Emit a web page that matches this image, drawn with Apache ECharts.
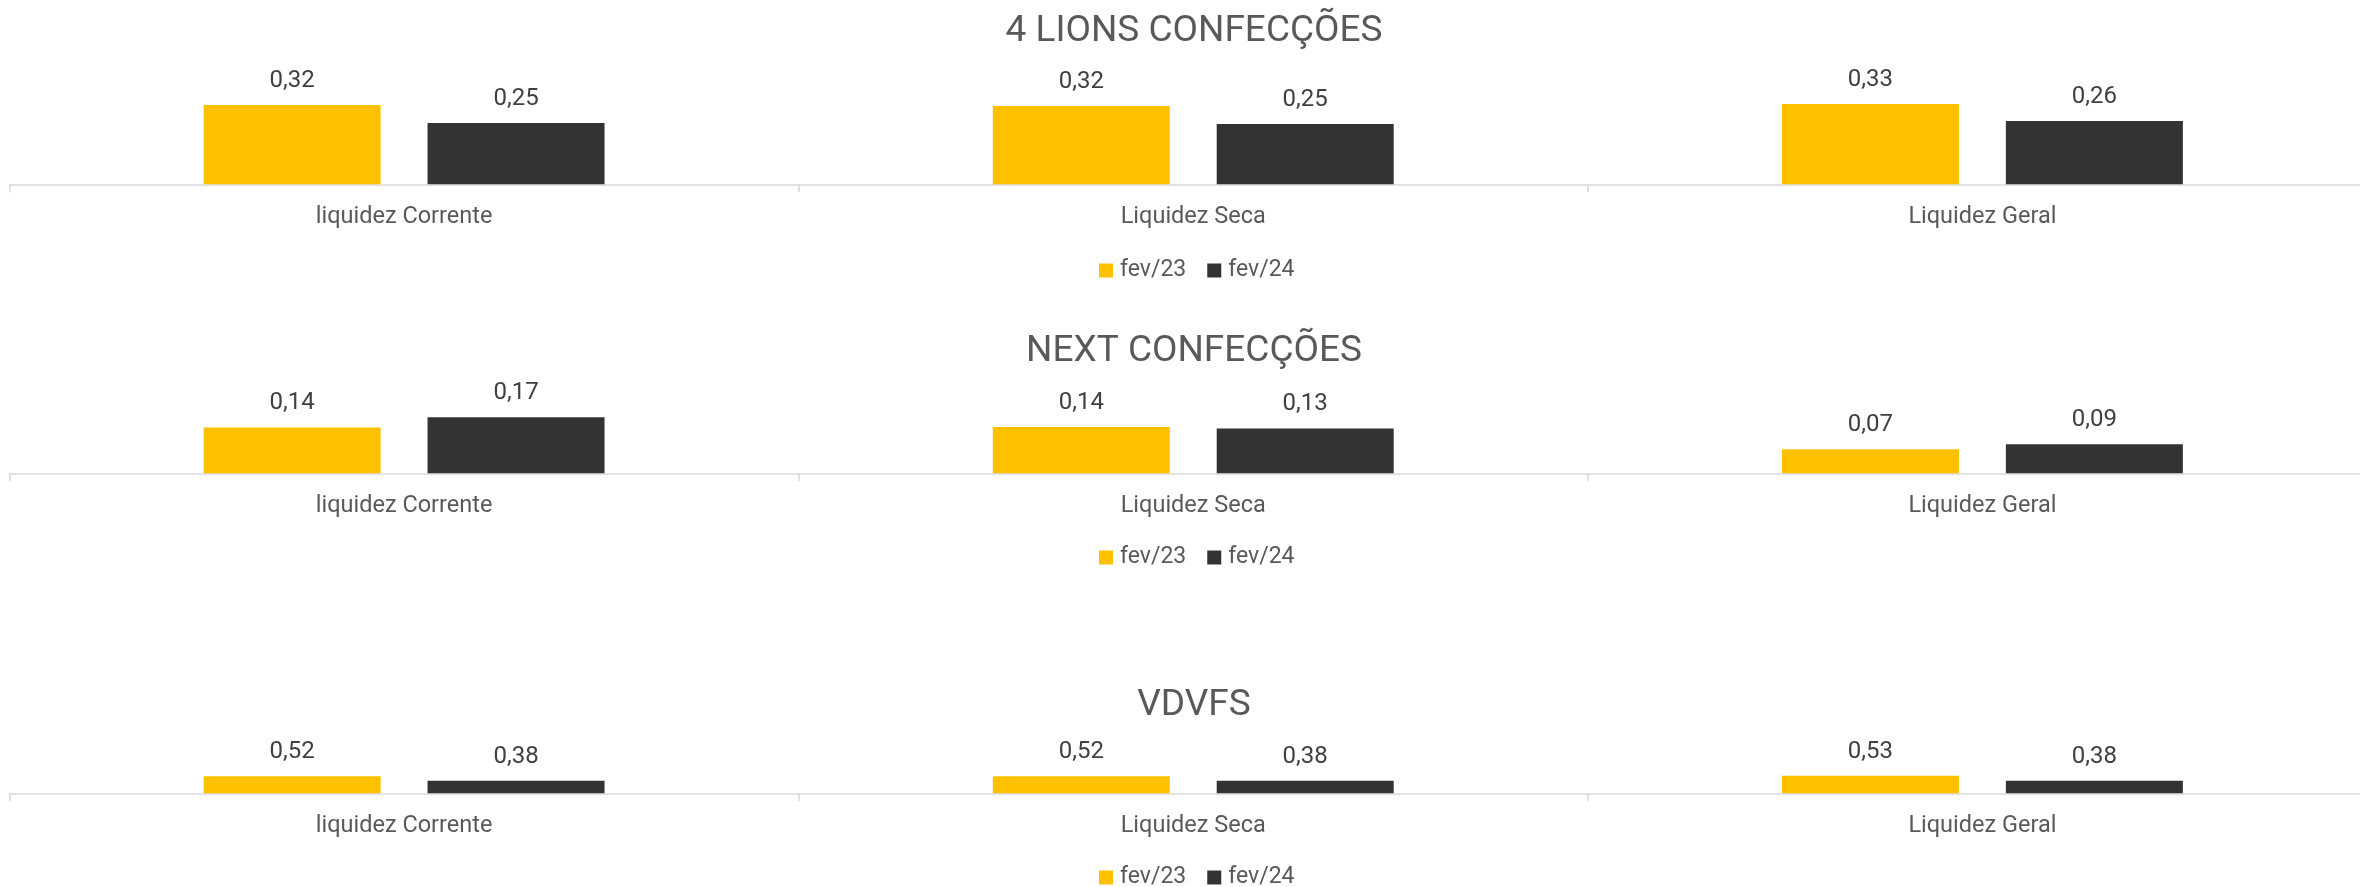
<!DOCTYPE html>
<html>
<head>
<meta charset="utf-8">
<script src="https://cdn.jsdelivr.net/npm/echarts@6/dist/echarts.min.js"></script>
<style>
html,body{margin:0;padding:0;background:#fff;overflow:hidden;width:2360px;height:887px;}
#chart{width:2377px;height:887px;}
</style>
</head>
<body>
<div id="chart"></div>
<script>
const categories = ['liquidez Corrente', 'Liquidez Seca', 'Liquidez Geral'];
const chartTitles = ['4 LIONS CONFECÇÕES', 'NEXT CONFECÇÕES', 'VDVFS'];
const seriesNames = ['fev/23', 'fev/24'];
const lionsFev23 = [0.324, 0.320, 0.328];
const lionsFev24 = [0.250, 0.246, 0.258];
const nextFev23 = [0.137, 0.138, 0.072];
const nextFev24 = [0.167, 0.134, 0.087];
const vdvfsFev23 = [0.52, 0.52, 0.53];
const vdvfsFev24 = [0.38, 0.38, 0.38];
const yMax = [0.4, 0.2, 2];

const panels = [
  [lionsFev23, lionsFev24],
  [nextFev23, nextFev24],
  [vdvfsFev23, vdvfsFev24]
];

const FONT = 'Roboto';
const gridLayout = [
  {top: 86.3, height: 98},
  {top: 406.3, height: 67},
  {top: 727.3, height: 66}
];
const titleTops = [13.5, 333.5, 687.5];
const legendTops = [259, 546, 866];
const colors = ['#FFC000', '#333333'];

const fmt = p => p.value.toFixed(2).replace('.', ',');

const option = {
  backgroundColor: '#ffffff',
  animation: false,
  title: chartTitles.map((t, i) => ({
    text: t,
    left: 1194,
    textAlign: 'center',
    top: titleTops[i],
    padding: 0,
    textStyle: {fontFamily: FONT, fontSize: 37, fontWeight: 'normal', color: '#595959'}
  })),
  legend: legendTops.map(t => ({
    data: seriesNames,
    left: 1099,
    top: t,
    padding: 0,
    icon: 'rect',
    itemWidth: 14,
    itemHeight: 14,
    itemGap: 21,
    textStyle: {fontFamily: FONT, fontSize: 23, color: '#595959', padding: [0, 0, 0, 2]}
  })),
  grid: gridLayout.map(g => ({left: 9.5, right: 0, top: g.top, height: g.height, containLabel: false})),
  xAxis: panels.map((p, i) => ({
    type: 'category',
    gridIndex: i,
    data: categories,
    axisLine: {show: true, lineStyle: {color: '#d9d9d9', width: 1.5}},
    axisTick: {show: true, length: 8, lineStyle: {color: '#d9d9d9', width: 1.5}},
    axisLabel: {fontFamily: FONT, fontSize: 23.5, color: '#595959', margin: 21}
  })),
  yAxis: panels.map((p, i) => ({
    type: 'value',
    gridIndex: i,
    min: 0,
    max: yMax[i],
    show: false,
    splitLine: {show: false}
  })),
  series: []
};

panels.forEach((p, i) => {
  p.forEach((vals, j) => {
    option.series.push({
      type: 'bar',
      name: seriesNames[j],
      xAxisIndex: i,
      yAxisIndex: i,
      data: vals,
      barWidth: 177,
      barGap: '26.5%',
      itemStyle: {color: colors[j]},
      label: {
        show: true,
        position: 'top',
        distance: 12,
        formatter: fmt,
        fontFamily: FONT,
        fontSize: 24,
        color: '#404040'
      }
    });
  });
});

const chart = echarts.init(document.getElementById('chart'), null, {renderer: 'canvas'});
chart.setOption(option);
</script>
</body>
</html>
